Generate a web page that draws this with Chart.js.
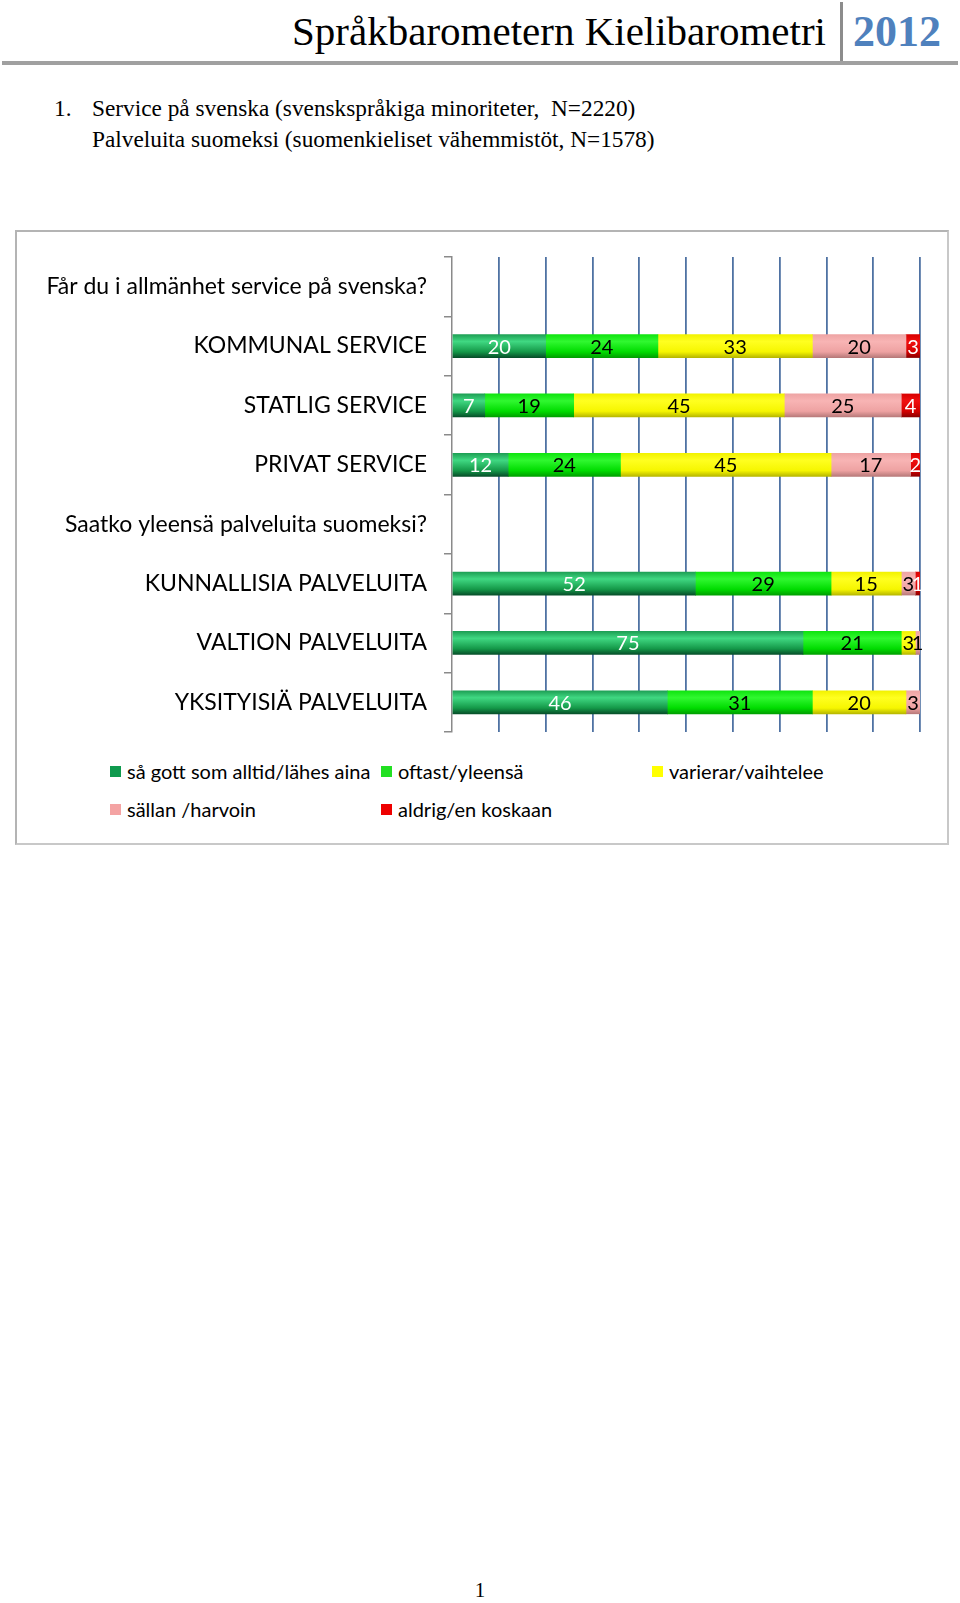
<!DOCTYPE html>
<html lang="sv">
<head>
<title>Språkbarometern Kielibarometri 2012</title>
<meta charset="utf-8"/>
<script src="https://cdn.jsdelivr.net/npm/chart.js"></script>
<style>
body {
  margin: 0;
  width: 960px;
  height: 1603px;
  position: relative;
  background: #fff;
  font-family: "Liberation Serif", serif;
}
#head_title {
  position: absolute; right: 134px; top: 7px;
  font-size: 41px; color: #000; white-space: nowrap;
}
#head_year {
  position: absolute; left: 853px; top: 6px;
  font-size: 44px; font-weight: bold; color: #4f81bd;
}
#head_vline {
  position: absolute; left: 840px; top: 2px; width: 3px; height: 60px; background: #8c8c8c;
}
#head_hline {
  position: absolute; left: 2px; top: 61px; width: 956px; height: 4px; background: #a0a0a0;
}
.sub {
  position: absolute; font-size: 23.3px; white-space: nowrap;
}
#box {
  position: absolute; left: 15px; top: 230px; width: 930px; height: 611px;
  border: 2px solid #b4b4b4; border-right-color: #c8c8c8; border-bottom-color: #c8c8c8;
}
#chart_wrap {
  position: absolute; left: 16px; top: 232px; width: 930px; height: 520px;
}
#legend {
  position: absolute; left: 110px; top: 752px;
  display: grid; grid-template-columns: 271px 271px 271px; grid-auto-rows: 38px;
  font-family: Lato, sans-serif; font-size: 20px; color: #000;
}
#legend div { display: flex; align-items: center; white-space: nowrap; }
#legend span.box { display: inline-block; width: 11px; height: 11px; margin-right: 6px; }
#pagenum {
  position: absolute; left: 0; width: 960px; top: 1578px; text-align: center; font-size: 21px;
}
</style>
</head>
<body>
<div id="head_title">Språkbarometern Kielibarometri</div>
<div id="head_vline"></div>
<div id="head_year">2012</div>
<div id="head_hline"></div>
<div class="sub" style="left:54px; top:95px;">1.</div>
<div class="sub" style="left:92px; top:95px;">Service på svenska (svenskspråkiga minoriteter,&nbsp; N=2220)</div>
<div class="sub" style="left:92px; top:126px;">Palveluita suomeksi (suomenkieliset vähemmistöt, N=1578)</div>

<div id="box"></div>
<div id="chart_wrap"><canvas id="chart" width="930" height="520"></canvas></div>
<div id="legend"></div>
<div id="pagenum">1</div>

<script>
"use strict";
const categories = [
  "Får du i allmänhet service på svenska?",
  "KOMMUNAL SERVICE",
  "STATLIG SERVICE",
  "PRIVAT SERVICE",
  "Saatko yleensä palveluita suomeksi?",
  "KUNNALLISIA PALVELUITA",
  "VALTION PALVELUITA",
  "YKSITYISIÄ PALVELUITA"
];
const seriesNames = [
  "så gott som alltid/lähes aina",
  "oftast/yleensä",
  "varierar/vaihtelee",
  "sällan /harvoin",
  "aldrig/en koskaan"
];
const alltid    = [null, 20,  7, 12, null, 52, 75, 46];
const oftast    = [null, 24, 19, 24, null, 29, 21, 31];
const varierar  = [null, 33, 45, 45, null, 15,  3, 20];
const sallan    = [null, 20, 25, 17, null,  3,  1,  3];
const aldrig    = [null,  3,  4,  2, null,  1,  0,  0];
const xTicks = [0, 10, 20, 30, 40, 50, 60, 70, 80, 90, 100];

const legendColors = ["#0f9a4e", "#22e022", "#ffff00", "#f4a3a3", "#ee0000"];
const labelColors = ["#ffffff", "#000000", "#000000", "#000000", "#ffffff"];
// top, shine, mid, bottom
const shades = [
  ["#1ea055", "#40d882", "#149848", "#07502a"],
  ["#10e410", "#30f830", "#00dc00", "#00a000"],
  ["#f2f200", "#ffff20", "#f6f600", "#b8b800"],
  ["#eea4a4", "#f8b4b4", "#eea2a2", "#b87a7a"],
  ["#d80000", "#f01010", "#d40000", "#8c0000"]
];
const BAR_H = 23;

function barFill(k){
  return (ctx) => {
    const chart = ctx.chart;
    const y = chart.scales.y;
    if(!y || ctx.dataIndex === undefined){
      return legendColors[k];
    }
    const yc = y.getPixelForValue(ctx.dataIndex);
    if(!isFinite(yc)){
      return legendColors[k];
    }
    const g = chart.ctx.createLinearGradient(0, yc - BAR_H / 2, 0, yc + BAR_H / 2);
    g.addColorStop(0, shades[k][0]);
    g.addColorStop(0.3, shades[k][1]);
    g.addColorStop(0.75, shades[k][2]);
    g.addColorStop(1, shades[k][3]);
    return g;
  };
}

const barLabels = {
  id: "barLabels",
  afterDatasetsDraw(chart){
    const c = chart.ctx;
    c.save();
    c.font = "20px Lato";
    c.textAlign = "center";
    c.textBaseline = "middle";
    chart.data.datasets.forEach((ds, k) => {
      const meta = chart.getDatasetMeta(k);
      meta.data.forEach((el, i) => {
        const v = ds.data[i];
        if(!v){
          return;
        }
        c.fillStyle = labelColors[k];
        c.fillText(String(v), (el.x + el.base) / 2, el.y + 1);
      });
    });
    c.restore();
  }
};

const allSeries = [alltid, oftast, varierar, sallan, aldrig];
const datasets = allSeries.map((d, k) => ({
  label: seriesNames[k],
  data: d,
  backgroundColor: barFill(k),
  borderWidth: 0,
  barThickness: BAR_H
}));

const chart = new Chart(document.getElementById("chart"), {
  type: "bar",
  data: {
    labels: categories,
    datasets: datasets
  },
  plugins: [barLabels],
  options: {
    indexAxis: "y",
    responsive: false,
    animation: false,
    layout: {
      padding: {left: 0, right: 26, top: 25, bottom: 20}
    },
    plugins: {
      legend: {display: false},
      tooltip: {enabled: false}
    },
    scales: {
      x: {
        stacked: true,
        min: 0,
        max: 100,
        afterBuildTicks: (s) => { s.ticks = xTicks.map(v => ({value: v})); },
        afterFit: (s) => { s.height = 0; s.paddingLeft = 0; s.paddingRight = 0; },
        ticks: {display: false},
        border: {display: false},
        grid: {
          drawTicks: false,
          lineWidth: 1.8,
          color: (ctx) => ctx.tick && ctx.tick.value === 0 ? "rgba(0,0,0,0)" : "#4f72a3"
        }
      },
      y: {
        stacked: true,
        afterFit: (s) => { s.width = 436; s.paddingTop = 0; s.paddingBottom = 0; },
        border: {display: true, color: "#8a8a8a", width: 1.5},
        grid: {
          offset: true,
          drawOnChartArea: false,
          drawTicks: true,
          tickLength: 8,
          color: "#8a8a8a",
          lineWidth: 1.5
        },
        ticks: {
          padding: 17,
          color: "#000",
          font: {family: "Lato", size: 23}
        }
      }
    }
  }
});

// legend in three fixed columns, like the original
const legend = document.getElementById("legend");
seriesNames.forEach((name, k) => {
  const item = document.createElement("div");
  if(k === 3){
    item.style.gridColumn = "1";
  }
  item.innerHTML = `<span class="box" style="background:${legendColors[k]}"></span>${name}`;
  legend.appendChild(item);
});
</script>
</body>
</html>
